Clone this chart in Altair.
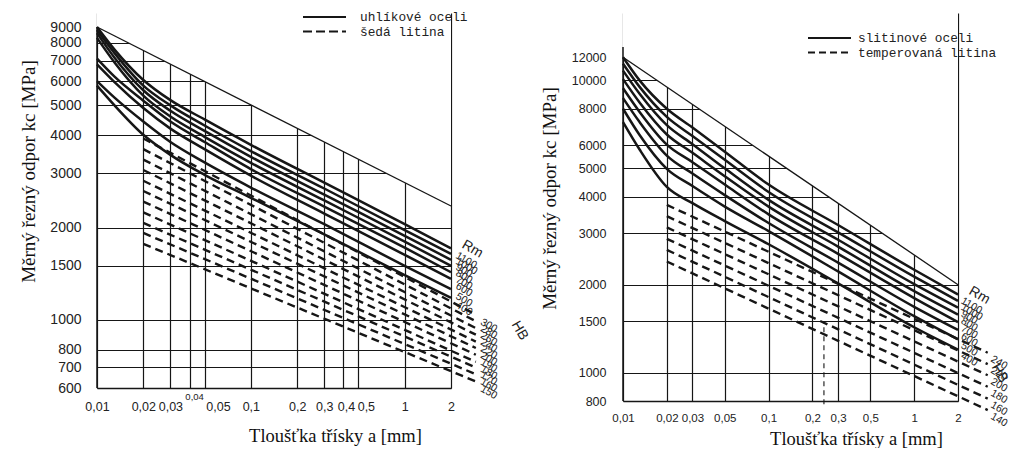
import altair as alt
import pandas as pd

INK = "#161616"
SANS = "Liberation Sans"
SERIF = "Liberation Serif"
MONO = "Liberation Mono"

# ================= LEFT PANEL: uhlíkové oceli / šedá litina =================
L_X_SOLID = [0.01, 0.013, 0.02, 0.03, 0.05, 0.1, 0.3, 1, 2]
L_RM = ["1100", "1000", "900", "800", "700", "600", "500", "400"]
L_SOLID = [
    [9000, 7600, 6050, 5200, 4500, 3720, 2800, 2050, 1710],
    [8800, 7400, 5800, 5000, 4300, 3550, 2680, 1960, 1640],
    [8600, 7150, 5600, 4800, 4130, 3400, 2560, 1880, 1570],
    [8300, 6900, 5380, 4600, 3950, 3250, 2450, 1800, 1500],
    [7100, 6200, 5180, 4430, 3800, 3100, 2340, 1720, 1430],
    [6800, 5950, 4900, 4200, 3600, 2950, 2220, 1630, 1360],
    [6000, 5300, 4430, 3800, 3260, 2700, 2050, 1500, 1260],
    [5800, 5000, 4010, 3450, 2970, 2500, 1900, 1400, 1180],
]
L_X_DASH = [0.02, 2.9]
L_HB = ["300", "280", "260", "240", "220", "200", "190", "180", "170", "160", "150"]
L_DASH = [
    [3900, 1040], [3600, 990], [3330, 940], [3080, 895], [2840, 850], [2630, 810],
    [2430, 770], [2240, 730], [2070, 700], [1920, 665], [1770, 630],
]
L_DIAG_X = [0.01, 2]
L_DIAG_Y = [9000, 2350]
L_BORDER_Y = [600, 9000]
L_XTICKS = [0.01, 0.02, 0.03, 0.04, 0.05, 0.1, 0.2, 0.3, 0.4, 0.5, 1, 2]
L_YTICKS = [600, 700, 800, 1000, 1500, 2000, 3000, 4000, 5000, 6000, 7000, 8000, 9000]
L_YDOMAIN = [600, 10000]
L_LEGEND = ["uhlíkové oceli", "šedá litina"]
# tick labels that the scan prints shifted (drawn as separate texts)
L_MOVED_X = [0.04, 0.05, 0.4, 0.5]
L_MOVED_LABEL = ["0,04", "0,05", "0,4", "0,5"]

# ================= RIGHT PANEL: slitinové oceli / temperovaná litina =================
R_X_SOLID = [0.01, 0.013, 0.02, 0.03, 0.05, 0.1, 0.3, 1, 2]
R_RM = ["1100", "1000", "900", "800", "700", "600", "500", "400"]
R_SOLID = [
    [12000, 10000, 8000, 6900, 5700, 4400, 3200, 2250, 1850],
    [11400, 9500, 7500, 6450, 5350, 4150, 3020, 2130, 1760],
    [10800, 9000, 7030, 6050, 5000, 3900, 2850, 2010, 1670],
    [10100, 8400, 6530, 5650, 4700, 3700, 2700, 1900, 1580],
    [9400, 7800, 6030, 5250, 4400, 3480, 2550, 1800, 1490],
    [8700, 7200, 5530, 4800, 4050, 3250, 2380, 1680, 1400],
    [8000, 6500, 4980, 4350, 3700, 3050, 2220, 1560, 1300],
    [7200, 5800, 4320, 3800, 3300, 2750, 2020, 1430, 1200],
]
R_X_DASH = [0.02, 3.2]
R_HB = ["240", "220", "200", "180", "160", "140"]
R_DASH = [[3750, 1170], [3430, 1070], [3140, 980], [2870, 895], [2630, 815], [2400, 745]]
R_DIAG_X = [0.01, 2]
R_DIAG_Y = [12000, 2000]
R_BORDER_Y = [800, 13000]
R_XTICKS = [0.01, 0.02, 0.03, 0.05, 0.1, 0.2, 0.3, 0.5, 1, 2]
R_YTICKS = [800, 1000, 1500, 2000, 3000, 4000, 5000, 6000, 8000, 10000, 12000]
R_YDOMAIN = [800, 17000]
R_LEGEND = ["slitinové oceli", "temperovaná litina"]
R_VLINE_X = [0.24]
R_VLINE_Y = [780, 1500]

X_TITLE = "Tloušťka třísky a [mm]"
Y_TITLE = "Měrný řezný odpor kc [MPa]"


def long_df(xs, rows, names):
    recs = []
    for name, row in zip(names, rows):
        for a, kc in zip(xs, row):
            recs.append({"a": a, "kc": kc, "id": name})
    return pd.DataFrame(recs)


def make_panel(c):
    xs = alt.Scale(type="log", domain=[0.01, 2], nice=False)
    ys = alt.Scale(type="log", domain=c["ydomain"], nice=False)

    hidden = c.get("moved", ([], []))[0]
    hide_test = " || ".join(f"datum.value == {v}" for v in hidden) or "false"
    xaxis = alt.Axis(
        values=c["xticks"], format="~g",
        labelExpr=f"({hide_test}) ? '' : replace(datum.label, '.', ',')",
        grid=True, gridColor=INK, gridWidth=1.2, gridOpacity=1, zindex=0,
        ticks=False, domain=True, domainColor=INK, domainWidth=1.5,
        labelFont=SANS, labelFontSize=c["xlabsize"], labelColor="#222",
        labelPadding=c["xlabpad"], labelOverlap=False, labelFlush=False,
        title=X_TITLE, titleFont=SERIF, titleFontSize=18.5, titleFontWeight="normal",
        titleColor="#111", titleX=c["xtitle_x"], titleY=c["xtitle_y"],
        titleBaseline="middle", titleAlign="center", titleAngle=0,
    )
    yaxis = alt.Axis(
        values=c["yticks"], format="d",
        grid=True, gridColor=INK, gridWidth=1.2, gridOpacity=1, zindex=0,
        ticks=False, domain=False,
        labelFont=SANS, labelFontSize=c["ylabsize"], labelColor="#222",
        labelPadding=c["ylabpad"], labelOverlap=False,
        title=Y_TITLE, titleFont=SERIF, titleFontSize=19, titleFontWeight="normal",
        titleColor="#111", titleX=c["ytitle_x"], titleY=c["ytitle_y"],
        titleAngle=270, titleBaseline="middle", titleAlign="center",
    )

    def X():
        return alt.X("a:Q", scale=xs, axis=xaxis)

    def Y():
        return alt.Y("kc:Q", scale=ys, axis=yaxis)

    diag = pd.DataFrame({"a": c["diag_x"], "kc": c["diag_y"]})
    cover = alt.Chart(diag).mark_area(color="white", fill="white", opacity=1).encode(
        x=X(),
        y=alt.Y("kc:Q", scale=ys, axis=yaxis, stack=None),
        y2=alt.value(0),
    )
    diag_line = alt.Chart(diag).mark_line(color=INK, strokeWidth=1.3).encode(x=X(), y=Y())

    border_df = pd.DataFrame({"a": [0.01], "kc": [c["border_y"][0]], "kc2": [c["border_y"][1]]})
    border = alt.Chart(border_df).mark_rule(color=INK, strokeWidth=1.5).encode(
        x=X(), y=Y(), y2="kc2:Q")

    solid_df = long_df(c["x_solid"], c["solid"], c["rm"])
    solid = alt.Chart(solid_df).mark_line(
        color=INK, strokeWidth=2.5, interpolate="monotone").encode(
        x=X(), y=Y(), detail="id:N")

    dash_df = long_df(c["x_dash"], c["dash"], c["hb"])
    dashed = alt.Chart(dash_df).mark_line(
        color=INK, strokeWidth=2.4, strokeDash=[8, 5]).encode(
        x=X(), y=Y(), detail="id:N")

    rm_df = pd.DataFrame({"a": [c["x_solid"][-1]] * len(c["rm"]),
                          "kc": [r[-1] for r in c["solid"]], "t": c["rm"]})
    rm_txt = alt.Chart(rm_df).mark_text(
        align="left", baseline="middle", angle=30, dx=c["rm_dx"], dy=3,
        font=SANS, fontSize=10.5, color="#222").encode(x=X(), y=Y(), text="t:N")

    hb_df = pd.DataFrame({"a": [c["x_dash"][-1]] * len(c["hb"]),
                          "kc": [r[-1] for r in c["dash"]], "t": c["hb"]})
    hb_txt = alt.Chart(hb_df).mark_text(
        align="left", baseline="middle", angle=30, dx=c["hb_dx"], dy=3,
        font=SANS, fontSize=10.5, color="#222").encode(x=X(), y=Y(), text="t:N")

    rm_head = alt.Chart(pd.DataFrame({"a": [c["x_solid"][-1]], "kc": [c["solid"][0][-1]], "t": ["Rm"]})).mark_text(
        align="left", baseline="middle", angle=30, dx=c["rm_head"][0], dy=c["rm_head"][1],
        font=SANS, fontSize=14, color="#222").encode(x=X(), y=Y(), text="t:N")
    hb_head = alt.Chart(pd.DataFrame({"a": [c["x_dash"][-1]], "kc": [c["dash"][0][-1]], "t": ["HB"]})).mark_text(
        align="left", baseline="middle", angle=60, dx=c["hb_head"][0], dy=c["hb_head"][1],
        font=SANS, fontSize=14, color="#222").encode(x=X(), y=Y(), text="t:N")

    lx, ly = c["leg_xy"]
    leg = []
    for i, (name, dash) in enumerate(zip(c["legend"], [[1, 0], c["leg_dash"]])):
        d = pd.DataFrame({"t": [name]})
        leg.append(alt.Chart(d).mark_rule(color=INK, strokeWidth=1.8, strokeDash=dash).encode(
            x=alt.value(lx), x2=alt.value(lx + 43), y=alt.value(ly + 14.5 * i)))
        leg.append(alt.Chart(d).mark_text(
            align="left", baseline="middle", font=MONO, fontSize=12.8, color="#222").encode(
            x=alt.value(lx + c["leg_gap"]), y=alt.value(ly + 14.5 * i), text="t:N"))

    layers = [cover, diag_line, border, solid, dashed, rm_txt, hb_txt, rm_head, hb_head] + leg

    if c.get("moved"):
        mx, mlab = c["moved"]
        shifts = c["moved_shift"]
        for v, lab, (ddx, ddy, fs) in zip(mx, mlab, shifts):
            d = pd.DataFrame({"a": [v], "kc": [c["ydomain"][0]], "t": [lab]})
            layers.append(alt.Chart(d).mark_text(
                align="center", baseline="middle", dx=ddx, dy=ddy, font=SANS, fontSize=fs,
                color="#222").encode(x=X(), y=Y(), text="t:N"))
    if c.get("vline"):
        vl = pd.DataFrame({"a": c["vline"][0], "kc": [c["vline"][1][0]], "kc2": [c["vline"][1][1]]})
        layers.append(alt.Chart(vl).mark_rule(color=INK, strokeWidth=1.1, strokeDash=[5, 4]).encode(
            x=X(), y=Y(), y2="kc2:Q"))

    return alt.layer(*layers).properties(width=c["width"], height=c["height"])


left = make_panel(dict(
    x_solid=L_X_SOLID, solid=L_SOLID, rm=L_RM, x_dash=L_X_DASH, dash=L_DASH, hb=L_HB,
    diag_x=L_DIAG_X, diag_y=L_DIAG_Y, border_y=L_BORDER_Y, xticks=L_XTICKS, yticks=L_YTICKS,
    ydomain=L_YDOMAIN, legend=L_LEGEND, leg_dash=[9, 4], leg_xy=(206, 4), leg_gap=57,
    width=354, height=375, xlabsize=12.5, ylabsize=14, xlabpad=12, ylabpad=16,
    xtitle_x=238, xtitle_y=47.5, ytitle_x=-69, ytitle_y=158,
    rm_dx=8, hb_dx=8, rm_head=(8, -10), hb_head=(26, -30),
    moved=(L_MOVED_X, L_MOVED_LABEL),
    moved_shift=[(5, 9, 9.5), (14, 19, 12.5), (3, 19, 12.5), (8, 19, 12.5)],
))

right = make_panel(dict(
    x_solid=R_X_SOLID, solid=R_SOLID, rm=R_RM, x_dash=R_X_DASH, dash=R_DASH, hb=R_HB,
    diag_x=R_DIAG_X, diag_y=R_DIAG_Y, border_y=R_BORDER_Y, xticks=R_XTICKS, yticks=R_YTICKS,
    ydomain=R_YDOMAIN, legend=R_LEGEND, leg_dash=[7, 4], leg_xy=(185, 25), leg_gap=50,
    width=335, height=388, xlabsize=11.5, ylabsize=12.5, xlabpad=11, ylabpad=17,
    xtitle_x=233, xtitle_y=37, ytitle_x=-74, ytitle_y=185,
    rm_dx=6, hb_dx=6, rm_head=(8, -10), hb_head=(14, 0),
    vline=(R_VLINE_X, R_VLINE_Y),
))

chart = alt.hconcat(left, right, spacing=172, bounds="flush").properties(
    padding={"left": 10, "top": 2, "right": 0, "bottom": 0}
).configure_view(stroke="transparent")

chart.save("out.html", embed_options={"renderer": "svg", "actions": False})
